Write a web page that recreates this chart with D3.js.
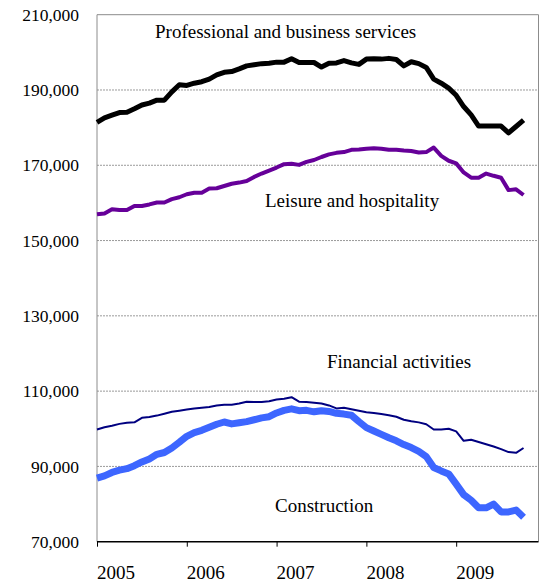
<!DOCTYPE html>
<html>
<head>
<meta charset="utf-8">
<script src="https://cdn.jsdelivr.net/npm/d3@7"></script>
<style>
  body { margin: 0; background: #fff; }
  svg text { font-family: "Liberation Serif", "DejaVu Serif", serif; fill: #000; }
</style>
</head>
<body>
<svg id="chart" width="542" height="583" font-family="Liberation Serif, serif"></svg>
<script>
// monthly values, Jan 2005 .. Oct 2009
const professional = [
  181400, 182600, 183300, 184000, 184100, 185000, 186000, 186500, 187300, 187300,
  189500, 191400, 191200, 191800, 192200, 192900, 194000, 194700, 194900, 195600,
  196400, 196700, 197000, 197100, 197400, 197400, 198300, 197300, 197300, 197300,
  196100, 197100, 197200, 197800, 197200, 196800, 198200, 198300, 198200, 198400,
  198100, 196400, 197500, 197000, 196000, 192900, 191800, 190500, 188600, 185600,
  183400, 180400, 180400, 180400, 180400, 178600, 180300, 182000
];
const leisure = [
  157000, 157200, 158300, 158100, 158100, 159200, 159200, 159600, 160100, 160100,
  161000, 161500, 162300, 162700, 162700, 163800, 163900, 164500, 165100, 165400,
  165800, 166900, 167800, 168600, 169400, 170300, 170400, 170100, 170900, 171400,
  172200, 172900, 173300, 173500, 174100, 174200, 174400, 174500, 174400, 174100,
  174100, 173900, 173800, 173400, 173500, 174700, 172500, 171200, 170500, 168100,
  166700, 166700, 167800, 167200, 166700, 163400, 163600, 162100
];
const financial = [
  99800, 100400, 100800, 101300, 101600, 101700, 102900, 103100, 103500, 104000,
  104500, 104800, 105100, 105400, 105600, 105800, 106200, 106400, 106400, 106700,
  107200, 107100, 107100, 107300, 107800, 108000, 108400, 107200, 107100, 106900,
  106700, 106200, 105400, 105600, 105200, 104800, 104400, 104200, 103900, 103600,
  103200, 102400, 102000, 101700, 101200, 99800, 99800, 100000, 99300, 96800,
  97100, 96500, 95900, 95300, 94600, 93800, 93600, 94900
];
const construction = [
  86900, 87500, 88400, 89000, 89400, 90200, 91200, 92000, 93200, 93700,
  94900, 96400, 98000, 99000, 99600, 100400, 101200, 101800, 101300, 101600,
  101900, 102400, 102900, 103200, 104200, 104900, 105300, 104800, 104900, 104500,
  104800, 104600, 104100, 103900, 103600, 101900, 100300, 99400, 98500, 97600,
  96800, 95800, 95000, 94000, 92600, 89700, 88800, 88000, 85300, 82500,
  81000, 79000, 79000, 80000, 77900, 77900, 78400, 76500
];
const years = ["2005", "2006", "2007", "2008", "2009"];
const yTicks = [70000, 90000, 110000, 130000, 150000, 170000, 190000, 210000];

const series = [
  { name: "Professional and business services", values: professional, color: "#000000", width: 5, lx: 155, ly: 38 },
  { name: "Leisure and hospitality", values: leisure, color: "#660099", width: 4, lx: 265, ly: 207 },
  { name: "Financial activities", values: financial, color: "#000080", width: 2, lx: 327, ly: 368 },
  { name: "Construction", values: construction, color: "#3D66FF", width: 7, lx: 275, ly: 512 }
];

const svg = d3.select("#chart");
const plot = { left: 97, right: 538.5, top: 14.7, bottom: 541.7 };

const x = d3.scaleLinear().domain([0, 59]).range([plot.left, plot.right]);
const y = d3.scaleLinear().domain([70000, 210000]).range([plot.bottom, plot.top]);

// gridlines
svg.append("g")
  .selectAll("line")
  .data(yTicks.slice(1, -1))
  .join("line")
  .attr("x1", plot.left).attr("x2", plot.right)
  .attr("y1", d => y(d)).attr("y2", d => y(d))
  .attr("stroke", "#9a9a9a")
  .attr("stroke-width", 1)
  .attr("stroke-dasharray", "2,1");

// frame (top, right, left)
svg.append("path")
  .attr("d", `M${plot.left},${plot.bottom}V${plot.top}H${plot.right}V${plot.bottom}`)
  .attr("fill", "none")
  .attr("stroke", "#8c8c8c")
  .attr("stroke-width", 1);

// y labels
svg.append("g")
  .selectAll("text")
  .data(yTicks)
  .join("text")
  .attr("x", 79)
  .attr("y", d => y(d))
  .attr("dy", "0.35em")
  .attr("text-anchor", "end")
  .attr("font-family", "Liberation Serif, serif")
  .style("font-size", "17.5px")
  .text(d => d3.format(",")(d));

// x axis
const xAxis = d3.axisBottom(x)
  .tickValues(years.map((d, i) => i * 12))
  .tickSize(5)
  .tickFormat("");
const gx = svg.append("g")
  .attr("transform", `translate(0,${plot.bottom})`)
  .call(xAxis);
gx.select(".domain").attr("d", `M${plot.left},0H${plot.right}`).attr("stroke", "#000").attr("stroke-width", 1.5);
gx.selectAll(".tick line").attr("stroke", "#000");

svg.append("g")
  .selectAll("text")
  .data(years)
  .join("text")
  .attr("x", (d, i) => x(i * 12))
  .attr("y", 579)
  .attr("font-family", "Liberation Serif, serif")
  .style("font-size", "19px")
  .text(d => d);

// lines
const line = d3.line()
  .x((d, i) => x(i))
  .y(d => y(d));

svg.append("g")
  .selectAll("path")
  .data(series)
  .join("path")
  .attr("d", d => line(d.values))
  .attr("fill", "none")
  .attr("stroke", d => d.color)
  .attr("stroke-width", d => d.width)
  .attr("stroke-linejoin", "round");

// series labels
svg.append("g")
  .selectAll("text")
  .data(series)
  .join("text")
  .attr("x", d => d.lx)
  .attr("y", d => d.ly)
  .attr("font-family", "Liberation Serif, serif")
  .style("font-size", "19px")
  .text(d => d.name);
</script>
</body>
</html>
